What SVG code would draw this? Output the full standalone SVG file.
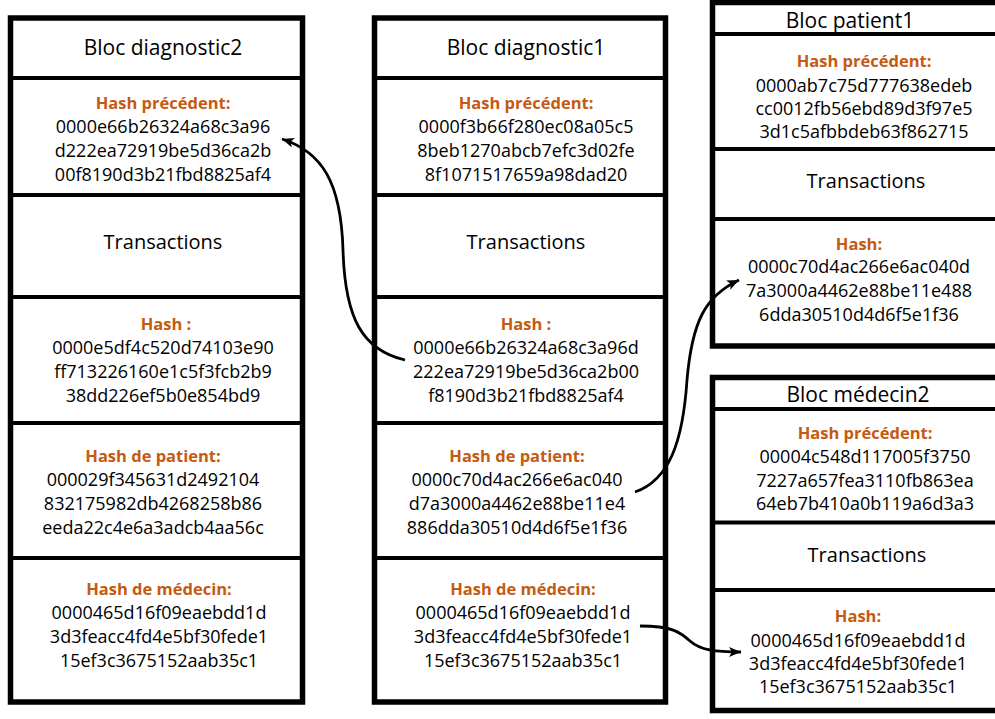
<svg xmlns="http://www.w3.org/2000/svg" width="995" height="719" viewBox="0 0 995 719">
  <defs>
    <marker id="arrow" markerUnits="userSpaceOnUse" markerWidth="14" markerHeight="12" refX="12" refY="5" orient="auto">
      <path d="M0,0 L12,5 L0,10 L3,5 z" fill="#000"/>
    </marker>
  </defs>
  <style>
    .frame { fill: #fff; stroke: #000; stroke-width: 5.5; }
    .sep { stroke: #000; stroke-width: 4; }
    text { font-family: "Open Sans", "Noto Sans", sans-serif; text-anchor: middle; fill: #000; }
    .title { font-size: 21px; }
    .trans { font-size: 20px; }
    .lbl { font-size: 16.5px; font-weight: bold; fill: #C55A11; }
    .hex { font-size: 18px; }
    .link { fill: none; stroke: #000; stroke-width: 2.8; marker-end: url(#arrow); }
  </style>
  <rect width="995" height="719" fill="#fff"/>

  <!-- Block: diagnostic 2 -->
  <g id="bloc-diagnostic2">
    <rect class="frame" x="10.5" y="18" width="292" height="684"/>
    <line class="sep" x1="10.5" y1="78" x2="302.5" y2="78"/>
    <line class="sep" x1="10.5" y1="195" x2="302.5" y2="195"/>
    <line class="sep" x1="10.5" y1="297" x2="302.5" y2="297"/>
    <line class="sep" x1="10.5" y1="423" x2="302.5" y2="423"/>
    <line class="sep" x1="10.5" y1="558" x2="302.5" y2="558"/>
    <text class="title" x="163" y="55">Bloc diagnostic2</text>
    <text class="lbl" x="163" y="109">Hash précédent:</text>
    <text class="hex" x="163" y="133">0000e66b26324a68c3a96</text>
    <text class="hex" x="163" y="157">d222ea72919be5d36ca2b</text>
    <text class="hex" x="163" y="181">00f8190d3b21fbd8825af4</text>
    <text class="trans" x="163" y="249">Transactions</text>
    <text class="lbl" x="166" y="330">Hash :</text>
    <text class="hex" x="163" y="354">0000e5df4c520d74103e90</text>
    <text class="hex" x="163" y="378">ff713226160e1c5f3fcb2b9</text>
    <text class="hex" x="163" y="402">38dd226ef5b0e854bd9</text>
    <text class="lbl" x="153" y="462">Hash de patient:</text>
    <text class="hex" x="153" y="486">000029f345631d2492104</text>
    <text class="hex" x="153" y="510">832175982db4268258b86</text>
    <text class="hex" x="153" y="534">eeda22c4e6a3adcb4aa56c</text>
    <text class="lbl" x="159" y="595">Hash de médecin:</text>
    <text class="hex" x="159" y="619">0000465d16f09eaebdd1d</text>
    <text class="hex" x="159" y="643">3d3feacc4fd4e5bf30fede1</text>
    <text class="hex" x="159" y="667">15ef3c3675152aab35c1</text>
  </g>

  <!-- Block: diagnostic 1 -->
  <g id="bloc-diagnostic1">
    <rect class="frame" x="374.5" y="18" width="291" height="684"/>
    <line class="sep" x1="374.5" y1="78" x2="665.5" y2="78"/>
    <line class="sep" x1="374.5" y1="195" x2="665.5" y2="195"/>
    <line class="sep" x1="374.5" y1="297" x2="665.5" y2="297"/>
    <line class="sep" x1="374.5" y1="423" x2="665.5" y2="423"/>
    <line class="sep" x1="374.5" y1="558" x2="665.5" y2="558"/>
    <text class="title" x="526" y="55">Bloc diagnostic1</text>
    <text class="lbl" x="526" y="109">Hash précédent:</text>
    <text class="hex" x="526" y="133">0000f3b66f280ec08a05c5</text>
    <text class="hex" x="526" y="157">8beb1270abcb7efc3d02fe</text>
    <text class="hex" x="526" y="181">8f1071517659a98dad20</text>
    <text class="trans" x="526" y="249">Transactions</text>
    <text class="lbl" x="526" y="330">Hash :</text>
    <text class="hex" x="526" y="354">0000e66b26324a68c3a96d</text>
    <text class="hex" x="526" y="378">222ea72919be5d36ca2b00</text>
    <text class="hex" x="526" y="402">f8190d3b21fbd8825af4</text>
    <text class="lbl" x="517" y="462">Hash de patient:</text>
    <text class="hex" x="517" y="486">0000c70d4ac266e6ac040</text>
    <text class="hex" x="517" y="510">d7a3000a4462e88be11e4</text>
    <text class="hex" x="517" y="534">886dda30510d4d6f5e1f36</text>
    <text class="lbl" x="523" y="595">Hash de médecin:</text>
    <text class="hex" x="523" y="619">0000465d16f09eaebdd1d</text>
    <text class="hex" x="523" y="643">3d3feacc4fd4e5bf30fede1</text>
    <text class="hex" x="523" y="667">15ef3c3675152aab35c1</text>
  </g>

  <!-- Block: patient 1 -->
  <g id="bloc-patient1">
    <rect class="frame" x="712.5" y="2.5" width="300" height="343.5"/>
    <line class="sep" x1="712.5" y1="34" x2="1000" y2="34"/>
    <line class="sep" x1="712.5" y1="149" x2="1000" y2="149"/>
    <line class="sep" x1="712.5" y1="219" x2="1000" y2="219"/>
    <text class="title" x="850" y="28">Bloc patient1</text>
    <text class="lbl" x="864" y="67">Hash précédent:</text>
    <text class="hex" x="864" y="92">0000ab7c75d777638edeb</text>
    <text class="hex" x="864" y="115">cc0012fb56ebd89d3f97e5</text>
    <text class="hex" x="864" y="138">3d1c5afbbdeb63f862715</text>
    <text class="trans" x="866" y="188">Transactions</text>
    <text class="lbl" x="859" y="250">Hash:</text>
    <text class="hex" x="859" y="273">0000c70d4ac266e6ac040d</text>
    <text class="hex" x="859" y="297">7a3000a4462e88be11e488</text>
    <text class="hex" x="859" y="321">6dda30510d4d6f5e1f36</text>
  </g>

  <!-- Block: médecin 2 -->
  <g id="bloc-medecin2">
    <rect class="frame" x="712.5" y="377.5" width="300" height="333"/>
    <line class="sep" x1="712.5" y1="409" x2="1000" y2="409"/>
    <line class="sep" x1="712.5" y1="522.5" x2="1000" y2="522.5"/>
    <line class="sep" x1="712.5" y1="590" x2="1000" y2="590"/>
    <text class="title" x="858" y="402">Bloc médecin2</text>
    <text class="lbl" x="865" y="439">Hash précédent:</text>
    <text class="hex" x="865" y="463">00004c548d117005f3750</text>
    <text class="hex" x="865" y="487">7227a657fea3110fb863ea</text>
    <text class="hex" x="865" y="510">64eb7b410a0b119a6d3a3</text>
    <text class="trans" x="867" y="562">Transactions</text>
    <text class="lbl" x="858" y="622">Hash:</text>
    <text class="hex" x="858" y="647">0000465d16f09eaebdd1d</text>
    <text class="hex" x="858" y="670">3d3feacc4fd4e5bf30fede1</text>
    <text class="hex" x="858" y="693">15ef3c3675152aab35c1</text>
  </g>

  <!-- Hash links between blocks -->
  <g id="connectors">
    <path class="link" d="M405,360 C362,350 345,318 343,250 C341,182 322,152 282,139"/>
    <path class="link" d="M635,492 C670,480 683,440 687,380 C692,322 705,296 739,280"/>
    <path class="link" d="M640,626 C672,626 680,632 690,641 C700,650 715,652 741,652"/>
  </g>
</svg>
